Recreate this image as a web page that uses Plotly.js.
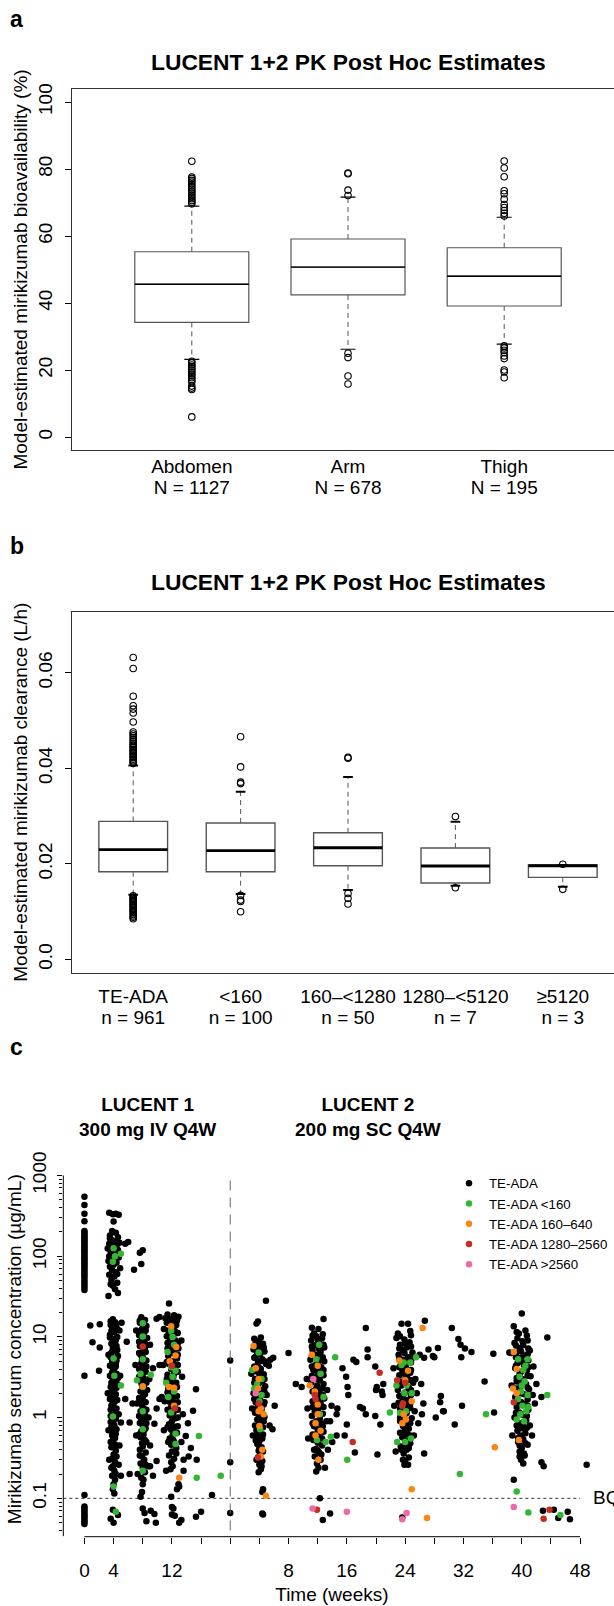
<!DOCTYPE html>
<html>
<head>
<meta charset="utf-8">
<script src="https://cdn.plot.ly/plotly-3.0.1.min.js"></script>
<style>html,body{margin:0;padding:0;overflow:hidden;background:#fff}</style>
</head>
<body>
<div id="chart" style="width:640px;height:1606px"></div>
<script>
// ================= DATA =================
// ---- Panel a: bioavailability by injection site ----
const siteNames = ['Abdomen', 'Arm', 'Thigh'];
const siteN = [1127, 678, 195];
const siteQ1 = [34.2, 42.4, 39.1];
const siteMedian = [45.6, 50.7, 48.0];
const siteQ3 = [55.3, 59.1, 56.5];
const siteWhiskerLow = [23.2, 26.2, 27.7];
const siteWhiskerHigh = [68.9, 71.6, 65.6];
const siteOutliersAbdomen = [69.6, 70.1, 70.6, 71.1, 71.7, 72.2, 72.8, 73.3, 73.9, 74.4, 75.0, 75.5, 76.1, 76.6, 77.2, 77.6, 82.3,
  22.6, 22.1, 21.5, 21.0, 20.4, 19.9, 19.3, 18.8, 18.2, 17.7, 17.1, 16.5, 15.2, 14.6, 14.2, 6.0];
const siteOutliersArm = [72.1, 73.7, 78.6, 78.8, 25.0, 23.7, 18.2, 15.8];
const siteOutliersThigh = [66.0, 66.8, 67.6, 68.5, 69.4, 71.0, 72.6, 73.5, 77.7, 80.3, 82.4,
  27.2, 26.6, 25.9, 25.2, 24.2, 23.4, 20.0, 19.4, 17.7];

// ---- Panel b: clearance by ADA titer ----
const titerNames = ['TE-ADA', '&lt;160', '160–&lt;1280', '1280–&lt;5120', '≥5120'];
const titerN = [961, 100, 50, 7, 3];
const titerQ1 = [0.01835, 0.01835, 0.0196, 0.0160, 0.01717];
const titerMedian = [0.02296, 0.02275, 0.02337, 0.01954, 0.0196];
const titerQ3 = [0.0289, 0.02855, 0.0265, 0.0233, 0.01975];
const titerWhiskerLow = [0.01353, 0.01368, 0.01451, 0.0154, 0.0152];
const titerWhiskerHigh = [0.0406, 0.0351, 0.0382, 0.0288, 0.01975];
const titerOutliersTeAda = [0.0410, 0.0413, 0.0416, 0.0419, 0.0422, 0.0425, 0.0428, 0.0431, 0.0434, 0.0437, 0.0440, 0.0443,
  0.0446, 0.0449, 0.0452, 0.0456, 0.0460, 0.0464, 0.0468, 0.0472, 0.0476, 0.0497, 0.0516, 0.0524, 0.0531, 0.0551, 0.0609, 0.0632,
  0.0133, 0.01305, 0.0128, 0.01255, 0.0123, 0.01205, 0.0118, 0.01155, 0.0113, 0.01105, 0.0108, 0.01055, 0.0103, 0.0100,
  0.0097, 0.0094, 0.0091, 0.0088, 0.0085];
const titerOutliersLt160 = [0.0368, 0.0371, 0.0403, 0.0466, 0.0134, 0.0124, 0.0121, 0.00997];
const titerOutliers160 = [0.0421, 0.0423, 0.0138, 0.01277, 0.01158];
const titerOutliers1280 = [0.0299, 0.0150];
const titerOutliers5120 = [0.0199, 0.01466];

// ---- Panel c: concentration vs time, [week, µg/mL] ----
// LUCENT 1 weeks as is; LUCENT 2 weeks are counted from the start of LUCENT 2
const l1TeAda = [
 [0,546],[0,430],[0,335],[0,270],[0,205],[0,196],[0,186],[0,177],[0,169],[0,161],[0,154],[0,147],[0,140],[0,133],[0,127],[0,121],[0,115],[0,110],[0,104],[0,99],[0,94],[0,90],[0,85],[0,81],[0,77],[0,73],[0,69],[0,65],[0,61],[0,57],[0,54],[0,50],[0,47],[0,44],[0,41],[0,38],[0,3.3],[0,0.11],
 [0,0.079],[0,0.075],[0,0.071],[0,0.067],[0,0.063],[0,0.060],[0,0.057],[0,0.054],[0,0.051],[0,0.048],
 [3.4,345],[4.3,335],[4.7,325],[3.9,330],[4.0,268],[3.8,205],[4.3,195],[3.5,180],[4.6,172],[3.7,160],[4.1,152],[4.8,147],[3.4,142],[4.4,137],[3.9,130],[3.2,124],[4.6,119],[3.6,113],[4.2,107],[3.4,100],[4.7,96],[3.9,91],[3.3,87],[4.4,83],[4.0,78],[3.5,74],[4.9,71],[3.8,67],[4.3,63],[3.4,59],[4.1,56],[3.7,51],[4.5,47],[3.9,43],[4.2,39],[4.6,35],[3.3,32],[3.6,45],[4.4,125],[3.6,95],[4.0,115],[4.5,60],[3.8,135],[4.1,88],[3.5,165],[4.5,150],[3.7,120],
 [5.6,142],[6.0,150],[6.8,68],[7.6,110],[8.0,118],[7.8,80],
 [0.8,13.8],[2.1,14.3],[1.1,8.6],[2.1,7.4],[2.0,3.8],
 [3.9,16.5],[4.2,15.2],[3.6,14.0],[4.4,13.0],[3.8,12.2],[4.1,11.4],[3.5,10.6],[4.5,10.0],[3.9,9.4],[4.2,8.8],[3.7,8.2],[4.4,7.7],[3.9,7.2],[4.1,6.7],[3.6,6.2],[4.6,5.8],[4.0,5.4],[3.8,5.0],[4.3,4.7],[3.5,4.4],[4.1,4.1],[3.9,3.8],[4.4,3.5],[3.7,3.2],[4.2,3.0],[3.9,2.8],[4.5,2.6],[3.6,2.4],[4.1,2.25],[3.8,2.1],[4.3,1.95],[3.9,1.8],[3.5,1.7],[4.2,1.6],[4.0,1.5],[3.7,1.4],[4.4,1.3],[3.9,1.2],[4.1,1.12],[3.6,1.05],[4.3,0.97],[3.9,0.9],[4.0,0.83],[3.7,0.77],[4.4,0.72],[4.0,0.66],[3.8,0.61],[4.2,0.56],[3.9,0.52],[4.1,0.47],[3.7,0.43],[4.3,0.39],[4.0,0.35],[3.8,0.31],[4.2,0.28],[3.9,0.25],[4.1,0.22],[3.8,0.19],[4.2,0.17],[4.0,0.15],[3.9,0.13],[4.1,0.115],
 [4.3,14.5],[3.7,11.8],[4.3,9.1],[3.8,6.5],[4.4,5.1],[3.8,3.6],[4.0,2.5],[4.2,1.85],[3.8,1.45],[4.1,0.8],[3.9,0.58],[4.4,0.45],
 [3.6,15.6],[4.5,12.4],[3.5,9.8],[4.0,8.5],[4.5,6.9],[3.6,5.6],[4.3,4.3],[3.5,3.3],[4.6,3.1],[3.7,2.7],[4.4,2.35],[3.6,1.9],[4.5,1.65],[3.6,1.25],[4.4,1.08],[3.6,0.88],[4.3,0.63],[3.6,0.5],[4.4,0.33],[3.7,0.24],[4.3,0.2],
 [4.8,12],[3.3,6],[4.9,3.3],[3.2,2],[4.7,1.1],[3.3,0.7],[4.8,0.45],[5.0,0.87],[5.0,0.19],[4.7,0.26],[3.4,0.3],
 [5.1,15],[5.8,8.7],[5.6,1.7],[6.2,0.87],[6.2,0.2],
 [3.6,0.056],[4.0,0.05],[4.6,0.062],[3.9,0.072],
 [7.8,17.5],[8.3,16.2],[7.6,15.0],[8.5,13.6],[7.9,12.5],[8.2,11.4],[7.5,10.5],[8.6,9.7],[7.9,9.0],[8.3,8.3],[7.6,7.7],[8.1,7.1],[8.4,6.5],[7.7,6.0],[8.0,5.6],[8.5,5.1],[7.8,4.7],[8.2,4.4],[7.5,4.0],[8.4,3.7],[7.9,3.4],[8.1,3.1],[7.6,2.9],[8.5,2.7],[7.9,2.5],[8.2,2.3],[7.7,2.1],[8.3,1.95],[8.0,1.8],[7.6,1.65],[8.4,1.55],[7.9,1.42],[8.1,1.3],[7.7,1.2],[8.3,1.1],[7.9,1.0],[8.2,0.93],[7.6,0.86],[8.0,0.8],[8.4,0.74],[7.8,0.68],[8.1,0.62],[7.7,0.57],[8.3,0.53],[7.9,0.48],[8.0,0.44],[7.6,0.4],[8.4,0.37],[7.9,0.33],[8.2,0.3],[7.7,0.27],[8.0,0.24],[8.3,0.21],[7.8,0.18],[8.0,0.15],[7.9,0.12],[7.7,0.105],
 [8.1,14.2],[7.7,10.9],[8.3,7.4],[7.9,5.3],[8.1,3.8],[7.8,2.7],[8.1,2.0],[7.8,1.5],[8.1,1.15],[7.8,0.96],[8.2,0.7],
 [7.6,16.0],[8.4,12.0],[7.5,8.7],[8.5,7.8],[7.5,6.3],[8.5,4.3],[7.5,3.2],[8.6,2.2],[7.5,1.75],[8.5,1.25],[7.5,1.05],[8.5,0.85],[7.5,0.62],[8.5,0.5],[7.6,0.34],[8.4,0.26],[8.1,0.17],
 [7.1,12],[9.0,8],[7.0,4.5],[8.9,3],[7.2,1.5],[8.8,1.0],[7.1,0.6],[9.0,0.45],[8.8,0.25],[7.3,0.2],
 [9.9,16.8],[10.3,17.6],[9.4,4.1],[10.3,1.7],[9.9,1.3],[9.6,0.84],[9.9,0.29],[9.0,0.25],[9.4,0.19],[6.6,1.5],
 [8.0,0.075],[8.25,0.066],[9.1,0.07],[8.5,0.052],[9.6,0.064],[9.8,0.05],
 [11.6,26],[11.4,19],[12.3,18.5],[12.9,17.8],[11.9,16.5],[11.3,15],[12.6,14],[12.0,13],[11.5,12],[12.8,11.2],[12.2,10.4],[11.7,9.7],[12.5,9],[11.4,8.4],[12.0,7.8],[12.9,7.2],[11.8,6.7],[12.3,6.2],[11.5,5.8],[12.7,5.4],[12.0,5.0],[11.6,4.6],[12.4,4.3],[11.9,4.0],[12.8,3.7],[11.4,3.4],[12.2,3.2],[11.8,2.9],[12.6,2.7],[12.0,2.5],[11.5,2.3],[12.3,2.15],[11.9,2.0],[12.7,1.85],[12.1,1.7],[11.6,1.58],[12.4,1.46],[11.9,1.35],[12.8,1.25],[12.2,1.15],[11.7,1.06],[12.5,0.98],[12.0,0.9],[11.6,0.83],[12.4,0.77],[11.9,0.71],[12.7,0.65],[12.1,0.6],[11.7,0.55],[12.3,0.5],[11.9,0.46],[12.6,0.42],[12.0,0.38],[11.6,0.34],[12.3,0.31],[11.9,0.28],[12.1,0.25],
 [12.1,15.5],[12.4,11.8],[11.8,8.9],[12.3,6.9],[12.1,4.8],[12.3,3.5],[11.9,2.6],[12.2,1.95],[12.0,1.45],[12.2,1.0],[12.1,0.73],[12.2,0.52],
 [11.4,17.2],[12.7,16.0],[11.3,10.2],[12.8,8.3],[11.4,7.2],[12.8,6.0],[11.3,4.9],[12.8,4.5],[11.3,3.0],[12.7,2.4],[11.4,2.05],[12.8,1.55],[11.4,1.25],[12.8,1.0],[11.4,0.76],[12.8,0.78],[11.5,0.5],[12.6,0.36],[11.8,0.23],
 [10.9,12.5],[13.3,9],[10.8,4.5],[13.4,3.2],[11.0,1.6],[13.5,1.1],[10.9,0.7],[13.3,0.5],[13.6,0.3],[11.2,0.22],[11.1,17],
 [14.9,1.22],[15.3,2.25],[13.9,0.59],[13.6,0.22],[15.4,0.3],[12.9,0.15],[12.7,0.13],[17.5,0.11],[14.2,0.85],[14.6,0.42],[11.9,0.105],[10.6,1.8],[10.3,4.5],[14.3,0.33],[13.0,0.14],
 [12.0,0.078],[12.2,0.075],[12.0,0.063],[12.4,0.061],[13.3,0.054],[13.0,0.05],[15.3,0.059],[16.0,0.068]
];
const l1Lt160 = [
 [4.0,125],[4.2,100],[3.9,85],[5.0,107],[4.0,5.4],[4.1,3.3],[5.0,2.5],[3.9,1.03],[4.0,0.14],[4.3,0.068],
 [8.0,14.8],[8.0,10.1],[8.0,5.3],[7.7,3.5],[9.1,3.4],[7.2,2.9],[8.0,2.4],[8.0,1.2],[8.0,0.72],[8.0,0.22],
 [11.9,12],[12.1,10],[12.3,8],[11.4,6.5],[11.9,4.2],[12.5,3.8],[12.1,3.2],[11.5,1.8],[12.3,2.1],[11.9,1.16],[12.5,0.63],[12.5,0.47],[11.2,2.7],
 [15.7,0.59],[15.4,0.18],[18.7,0.19]
];
const l1T160to640 = [[8.0,2.45],[11.9,13.5],[12.6,7.5],[12.5,5.9],[11.6,2.4],[12.3,2.35],[12.3,1.4],[13.0,0.18],[11.7,5.0]];
const l1T1280to2560 = [[8.0,7.6],[12.0,4.4],[12.4,1.3]];
const l1Gt2560 = [];

const l2TeAda = [
 [0,5.1],[0,0.28],[0,0.066],
 [4.9,28],[3.8,15.5],[3.6,14.6],[4.2,9.8],[3.3,9.5],
 [3.6,8.8],[4.5,8.2],[3.9,7.5],[3.2,7.0],[4.7,6.6],[4.1,6.1],[3.5,5.7],[4.4,5.3],[3.8,4.9],[4.9,4.6],[3.3,4.3],[4.2,4.0],[3.7,3.7],[4.6,3.45],[4.0,3.2],[3.4,3.0],[4.4,2.8],[3.9,2.6],[4.8,2.45],[3.6,2.3],[4.2,2.15],[3.2,2.0],[4.5,1.9],[3.9,1.78],[4.1,1.65],[3.5,1.55],[4.6,1.45],[3.8,1.35],[4.3,1.27],[3.6,1.18],[4.0,1.1],[4.7,1.02],[3.7,0.95],[4.2,0.88],[3.9,0.82],[4.5,0.76],[3.6,0.7],[4.1,0.65],[3.8,0.6],[4.4,0.55],[4.0,0.51],[3.7,0.47],[4.3,0.43],[3.9,0.39],[4.1,0.35],[3.8,0.32],[4.4,0.29],[4.0,0.26],[4.2,0.23],[3.9,0.21],
 [4.0,8.6],[4.3,7.2],[3.7,6.3],[4.1,5.0],[3.9,4.2],[4.1,3.4],[3.7,2.5],[4.3,2.2],[3.8,1.6],[4.2,1.25],[3.9,0.98],[4.1,0.75],[3.8,0.55],[4.0,0.42],
 [3.4,8.0],[4.6,7.4],[3.3,5.5],[4.7,5.0],[3.4,3.9],[4.7,3.0],[3.3,2.7],[4.7,2.1],[3.3,1.7],[4.7,1.55],[3.4,1.15],[4.6,0.9],[3.4,0.8],[4.5,0.62],[3.5,0.52],[4.5,0.38],[3.6,0.3],[4.3,0.25],
 [5.3,4.4],[2.9,3.5],[5.0,1.9],[3.0,1.3],[5.4,0.8],[3.1,0.6],
 [5.9,5.5],[5.5,5.2],[6.1,1.4],[5.8,0.72],[4.5,0.13],[4.4,0.12],[8.0,6.3],[9.0,2.6],[9.8,2.4],
 [4.4,0.065],[4.5,0.063],
 [12.8,16.6],[11.2,13],[12.1,12.5],[11.5,11],
 [11.8,10.2],[12.6,9.6],[11.1,9.0],[12.2,8.4],[11.6,7.9],[12.9,7.4],[11.3,6.9],[12.4,6.5],[11.9,6.0],[12.7,5.6],[11.0,5.2],[12.1,4.9],[11.7,4.5],[12.5,4.2],[11.4,3.9],[12.0,3.6],[12.8,3.35],[11.6,3.1],[12.3,2.9],[11.1,2.7],[11.9,2.5],[12.6,2.3],[11.5,2.15],[12.2,2.0],[11.8,1.85],[12.9,1.72],[11.3,1.6],[12.4,1.5],[11.9,1.4],[12.1,1.3],[11.6,1.2],[12.7,1.12],[11.2,1.05],[12.3,0.97],[11.8,0.9],[12.5,0.84],[11.5,0.78],[12.0,0.72],[12.8,0.67],[11.7,0.62],[12.3,0.57],[11.4,0.53],[12.0,0.49],[12.6,0.45],[11.8,0.41],[12.2,0.37],[11.6,0.33],[12.4,0.3],[11.9,0.27],[12.1,0.24],[11.8,0.215],
 [12.0,9.3],[12.2,7.1],[11.8,5.4],[12.2,4.1],[12.0,3.0],[11.8,2.3],[12.1,1.7],[12.0,1.15],[12.1,0.88],[12.0,0.6],[12.0,0.39],
 [11.3,10.4],[12.7,10.8],[11.2,7.6],[12.8,8.0],[11.2,5.8],[12.9,5.0],[11.2,4.3],[12.8,3.9],[11.2,3.3],[12.8,2.6],[11.3,2.1],[12.7,1.9],[11.3,1.35],[12.8,1.35],[11.3,0.85],[12.7,0.78],[11.3,0.62],[12.6,0.55],[11.5,0.4],[12.5,0.35],
 [10.5,3.0],[13.3,2.2],[10.6,1.3],[13.2,0.9],[10.7,0.55],[13.4,0.4],
 [15.4,4.1],[15.9,3.2],[16.9,5.2],[17.3,4.9],[16.1,2.4],[16.2,1.9],[14.7,1.3],[14.6,0.6],[15.7,0.6],[13.9,1.4],[14.6,1.1],[16.0,0.82],[17.1,0.37],[13.0,0.24],[13.7,0.9],[14.0,0.5],
 [12.3,0.1],[13.7,0.065],[12.7,0.054],
 [18.6,12.9],[18.85,7.0],[18.85,5.6],[19.9,4.3],[20.1,2.4],[20.0,2.2],[21.0,2.6],[20.9,1.9],[18.6,1.1],[17.8,1.35],[18.2,1.3],[19.9,1.05],[20.6,0.82],[20.2,0.35],[20.8,2.1],
 [23.5,14.5],[24.4,14.5],[23.0,11],[24.8,10.5],[22.8,9.7],
 [23.9,9.3],[24.6,8.6],[23.3,8.0],[24.2,7.4],[23.7,6.9],[25.0,6.4],[23.1,6.0],[24.4,5.6],[23.8,5.2],[24.8,4.8],[23.4,4.5],[24.1,4.2],[23.6,3.9],[24.7,3.6],[23.2,3.35],[24.3,3.1],[23.9,2.9],[25.1,2.7],[23.5,2.5],[24.5,2.35],[23.0,2.2],[24.0,2.05],[24.8,1.9],[23.6,1.77],[24.3,1.65],[23.1,1.53],[24.0,1.42],[24.7,1.32],[23.5,1.23],[24.2,1.14],[23.8,1.06],[24.9,0.98],[23.3,0.91],[24.1,0.85],[23.7,0.79],[24.5,0.73],[23.9,0.67],[24.3,0.62],[23.6,0.57],[24.0,0.52],[24.7,0.48],[23.4,0.44],[24.2,0.4],[23.8,0.36],[24.5,0.32],[24.0,0.28],[24.4,0.26],[23.9,0.26],
 [24.0,8.3],[23.9,6.3],[24.1,4.9],[23.9,3.5],[24.1,2.6],[23.8,1.95],[24.1,1.55],[23.9,1.2],[24.1,0.95],[24.0,0.72],[24.0,0.47],
 [23.3,10.2],[24.7,11.8],[23.2,7.2],[24.8,7.6],[23.2,5.4],[24.9,5.4],[23.2,4.2],[24.8,3.9],[23.2,2.8],[24.8,2.9],[23.2,1.85],[24.8,2.2],[23.3,1.3],[24.7,1.5],[23.3,1.0],[24.7,0.85],[23.3,0.65],[24.7,0.6],[23.5,0.4],[24.5,0.42],[23.7,0.3],
 [22.4,4.1],[25.4,3.0],[22.5,1.4],[25.3,1.2],[22.7,0.38],[25.2,0.6],
 [26.7,15.8],[26.0,6.0],[26.6,5.5],[27.8,5.8],[28.5,7.3],[28.0,5.6],[27.2,7.0],[28.8,1.55],[29.2,1.2],[26.5,1.5],[26.3,1.1],[26.6,0.36],[25.6,2.0],[26.2,2.6],[25.8,0.85],
 [23.6,0.058],
 [30.4,12.9],[31.3,9.4],[31.6,8.0],[32.2,7.2],[33.1,6.5],[31.7,5.6],[28.9,1.85],[31.8,1.4],[29.3,1.2],[28.2,1.0],[30.8,0.82],[34.9,2.8],[36.1,6.2],[36.2,1.16],[48.9,0.26],
 [40.0,19.5],[38.9,13.5],[40.5,12],[39.6,11],
 [39.4,9.6],[40.8,9.0],[39.0,8.4],[40.2,7.9],[39.7,7.3],[41.1,6.8],[39.2,6.3],[40.5,5.9],[39.9,5.5],[40.9,5.1],[39.4,4.7],[40.3,4.4],[39.1,4.1],[40.7,3.8],[39.7,3.5],[41.2,3.25],[40.1,3.0],[39.3,2.8],[40.6,2.6],[39.8,2.4],[41.0,2.25],[39.5,2.1],[40.3,1.95],[39.1,1.8],[40.8,1.68],[39.9,1.56],[40.4,1.45],[39.3,1.35],[40.9,1.25],[39.7,1.16],[40.2,1.08],[39.0,1.0],[40.6,0.93],[39.6,0.86],[41.1,0.8],[40.0,0.74],[39.4,0.69],[40.5,0.64],[39.8,0.59],[40.2,0.54],[39.5,0.5],[40.8,0.46],[40.0,0.42],[39.7,0.38],[40.4,0.34],[39.9,0.3],[40.2,0.27],
 [40.1,8.8],[39.9,6.6],[40.1,4.9],[39.9,3.7],[40.1,2.7],[39.9,2.0],[40.1,1.5],[39.9,1.1],[40.1,0.83],[40.0,0.6],
 [39.3,11.5],[40.7,10.4],[39.2,7.8],[40.9,7.2],[39.2,5.6],[40.8,6.1],[39.2,4.4],[40.9,4.2],[39.3,3.1],[40.8,3.3],[39.2,2.3],[40.8,2.35],[39.3,1.6],[40.8,1.4],[39.2,1.15],[40.7,1.05],[39.3,0.8],[40.7,0.75],[39.5,0.56],[40.5,0.48],[39.7,0.45],[40.3,0.36],
 [38.5,6.3],[41.6,4.3],[38.6,2.5],[41.5,1.9],[38.7,0.6],[41.4,0.6],
 [42.7,1.8],[43.5,9.8],[42.0,2.6],[41.8,1.5],[42.7,0.28],[43.0,0.25],[39.7,0.33],[38.9,0.17],[38.3,6.4],
 [42.9,0.07],[44.4,0.072],[45.0,0.057],[46.3,0.068],[46.6,0.055]
];
const l2Lt160 = [
 [3.9,6.4],[3.0,3.9],[3.3,2.3],[4.3,1.9],[4.0,1.6],[4.1,0.72],[4.3,3.0],[3.7,2.6],
 [12.2,8],[11.8,5.3],[12.8,1.8],[12.3,1.1],[11.9,0.53],[13.1,0.5],[13.8,0.58],[12.4,3.5],[14.4,5.6],[16.05,0.3],
 [23.8,4.8],[23.5,4.5],[24.7,4.8],[22.8,2.5],[24.2,2.5],[24.9,2.0],[23.9,2.0],[22.9,0.5],[24.0,0.5],[25.5,5.6],[21.9,1.16],[23.3,1.15],[24.8,0.55],[24.1,1.2],
 [39.5,5.3],[40.2,3.9],[40.8,5.3],[39.7,3.2],[40.4,2.8],[40.0,2.5],[40.8,1.9],[39.5,1.7],[40.1,1.4],[40.6,1.2],[39.8,1.1],[39.3,0.95],[40.9,1.35],[40.3,0.9],[40.5,4.4],[39.9,2.1],
 [39.3,0.122],[40.9,0.067],[43.5,1.9],[35.1,1.1],[31.5,0.2],[45.3,0.062]
];
const l2T160to640 = [
 [3.2,7.7],[3.5,4.1],[3.9,3.0],[3.8,2.3],[4.2,1.3],[3.9,1.2],[4.0,0.79],[4.4,0.4],[4.2,0.33],[4.9,0.108],[4.6,1.1],
 [11.2,6.0],[12.0,4.4],[10.9,2.5],[11.6,2.1],[12.0,1.45],[12.0,1.1],[11.7,0.85],[12.4,0.69],[11.7,0.6],[12.1,0.3],
 [23.2,5.1],[24.4,3.8],[24.0,2.9],[24.9,1.6],[23.8,1.1],[23.6,0.85],[24.1,0.95],[24.9,0.13],[26.4,12.9],[27.0,0.057],
 [38.9,6.5],[38.8,2.3],[39.3,2.0],[39.6,0.53],[36.3,0.43],[39.3,4.0]
];
const l2T1280to2560 = [[3.9,1.5],[3.8,0.32],[11.6,1.9],[11.7,1.7],[11.9,0.072],[22.9,2.9],[24.0,2.7],[23.7,1.5],[23.6,1.4],[20.5,3.6],[16.8,0.5],[38.9,1.55],[43.8,0.072],[43.0,0.056]];
const l2Gt2560 = [[3.5,2.0],[11.4,3.0],[11.3,0.075],[16.0,0.068],[24.2,0.066],[23.6,0.055],[38.9,0.078]];

// time axis tick labels
const l1TickWeeks = [0, 4, 8, 12, 16];
const l1TickLabels = ['0', '4', '', '12', ''];
const l2TickWeeks = [0, 4, 8, 12, 16, 20, 24, 28, 32, 36, 40, 44, 48];
const l2TickLabels = ['', '', '8', '', '16', '', '24', '', '32', '', '40', '', '48'];
const concTickVals = [0.1, 1, 10, 100, 1000];
const concTickText = ['0.1', '1', '10', '100', '1000'];
const bqlLimit = 0.1;

// ================= BUILD =================
const F = 'Liberation Sans, Arial, Helvetica, sans-serif';
const W = 640, H = 1606;
const px = v => v / W;
const py = v => 1 - v / H;
const L2_START = 20;   // position of LUCENT 2 week 0 on the shared time axis

function boxTraces(cfg) {
  const n = cfg.q1.length;
  const xs = cfg.q1.map((_, i) => i + 1);
  const traces = [];
  const wx = [], wy = [];
  for (let i = 0; i < n; i++) {
    wx.push(i + 1, i + 1, null, i + 1, i + 1, null);
    wy.push(cfg.q3[i], cfg.hi[i], null, cfg.q1[i], cfg.lo[i], null);
  }
  traces.push({type: 'scatter', mode: 'lines', x: wx, y: wy, xaxis: cfg.xa, yaxis: cfg.ya,
    line: {color: '#555', width: 1, dash: '5px,4px'}, showlegend: false, hoverinfo: 'skip'});
  traces.push({type: 'box', x: xs, q1: cfg.q1, median: cfg.med, q3: cfg.q3,
    lowerfence: cfg.q1, upperfence: cfg.q3, width: cfg.width, whiskerwidth: 0,
    fillcolor: '#ffffff', line: {color: '#555', width: cfg.boxLine}, boxpoints: false,
    xaxis: cfg.xa, yaxis: cfg.ya, showlegend: false, hoverinfo: 'skip'});
  const mx = [], my = [];
  for (let i = 0; i < n; i++) {
    mx.push(i + 1 - cfg.width / 2, i + 1 + cfg.width / 2, null);
    my.push(cfg.med[i], cfg.med[i], null);
  }
  traces.push({type: 'scatter', mode: 'lines', x: mx, y: my, xaxis: cfg.xa, yaxis: cfg.ya,
    line: {color: '#000', width: cfg.medLine}, showlegend: false, hoverinfo: 'skip'});
  const cx = [], cy = [];
  for (let i = 0; i < n; i++) {
    cx.push(i + 1 - cfg.cap, i + 1 + cfg.cap, null, i + 1 - cfg.cap, i + 1 + cfg.cap, null);
    cy.push(cfg.hi[i], cfg.hi[i], null, cfg.lo[i], cfg.lo[i], null);
  }
  traces.push({type: 'scatter', mode: 'lines', x: cx, y: cy, xaxis: cfg.xa, yaxis: cfg.ya,
    line: {color: '#000', width: cfg.capLine}, showlegend: false, hoverinfo: 'skip'});
  const ox = [], oy = [];
  cfg.out.forEach((arr, i) => arr.forEach(v => { ox.push(i + 1); oy.push(v); }));
  traces.push({type: 'scatter', mode: 'markers', x: ox, y: oy, xaxis: cfg.xa, yaxis: cfg.ya,
    marker: {symbol: 'circle-open', size: 6.5, color: '#000', line: {width: 1.1}},
    showlegend: false, hoverinfo: 'skip'});
  // invisible carrier so the second (count) label row axis is drawn
  traces.push({type: 'scatter', mode: 'markers', x: xs, y: xs.map(() => null), xaxis: cfg.xaCount, yaxis: cfg.ya,
    marker: {opacity: 0}, showlegend: false, hoverinfo: 'skip'});
  return traces;
}

const traces = [];
traces.push(...boxTraces({xa: 'x', xaCount: 'x4', ya: 'y', q1: siteQ1, med: siteMedian, q3: siteQ3,
  lo: siteWhiskerLow, hi: siteWhiskerHigh, width: 0.73, cap: 0.048, boxLine: 1.2, medLine: 1.4, capLine: 1.2,
  out: [siteOutliersAbdomen, siteOutliersArm, siteOutliersThigh]}));
traces.push(...boxTraces({xa: 'x2', xaCount: 'x5', ya: 'y2', q1: titerQ1, med: titerMedian, q3: titerQ3,
  lo: titerWhiskerLow, hi: titerWhiskerHigh, width: 0.64, cap: 0.045, boxLine: 1.4, medLine: 2.8, capLine: 2,
  out: [titerOutliersTeAda, titerOutliersLt160, titerOutliers160, titerOutliers1280, titerOutliers5120]}));

const groups = [
  {name: 'TE-ADA', color: '#000000', l1: l1TeAda, l2: l2TeAda},
  {name: 'TE-ADA &lt;160', color: '#35B535', l1: l1Lt160, l2: l2Lt160},
  {name: 'TE-ADA 160–640', color: '#FB8614', l1: l1T160to640, l2: l2T160to640},
  {name: 'TE-ADA 1280–2560', color: '#C52E25', l1: l1T1280to2560, l2: l2T1280to2560},
  {name: 'TE-ADA &gt;2560', color: '#EC6AAA', l1: l1Gt2560, l2: l2Gt2560}
];
groups.forEach(g => {
  const x = [], y = [];
  g.l1.forEach(p => { x.push(p[0]); y.push(p[1]); });
  g.l2.forEach(p => { x.push(p[0] + L2_START); y.push(p[1]); });
  traces.push({type: 'scatter', mode: 'markers', name: g.name, x, y, xaxis: 'x3', yaxis: 'y3',
    marker: {color: g.color, size: 6.5, line: {width: 0}}, hoverinfo: 'skip'});
});

const timeTickVals = l1TickWeeks.concat(l2TickWeeks.map(w => w + L2_START));
const timeTickText = l1TickLabels.concat(l2TickLabels);
const minorConc = [];
[0.01, 0.1, 1, 10, 100].forEach(d => { for (let k = 2; k <= 9; k++) minorConc.push(+(d * k).toPrecision(3)); });

const axCommon = {showgrid: false, zeroline: false, color: '#000', tickcolor: '#000', tickfont: {family: F, size: 19, color: '#000'}};
const titleFont = {family: F, size: 19, color: '#000'};

const layout = {
  width: W, height: H, margin: {l: 0, r: 0, t: 0, b: 0},
  paper_bgcolor: '#ffffff', plot_bgcolor: 'rgba(0,0,0,0)',
  font: {family: F, size: 19, color: '#000'},
  showlegend: true,
  legend: {x: px(449), xanchor: 'left', y: py(1168), yanchor: 'top', font: {family: F, size: 13.3, color: '#000'},
    itemwidth: 30, bgcolor: 'rgba(0,0,0,0)', borderwidth: 0, tracegroupgap: 0},
  // panel a
  xaxis: Object.assign({}, axCommon, {domain: [px(72), px(624)], range: [0.233, 3.767], anchor: 'y',
    tickmode: 'array', tickvals: [1, 2, 3], ticktext: siteNames,
    ticks: '', showline: true, mirror: true, linecolor: '#333', linewidth: 1, ticklabelstandoff: -1}),
  xaxis4: Object.assign({}, axCommon, {overlaying: 'x', anchor: 'y', side: 'bottom', range: [0.233, 3.767],
    tickmode: 'array', tickvals: [1, 2, 3], ticktext: siteN.map(n => 'N = ' + n),
    ticks: '', showline: false, showticklabels: true, ticklabelstandoff: 24}),
  yaxis: Object.assign({}, axCommon, {domain: [py(450.4), py(88.6)], range: [-4, 104], anchor: 'x',
    tickmode: 'array', tickvals: [0, 20, 40, 60, 80, 100], ticks: 'outside', ticklen: 6, tickangle: -90,
    showline: true, mirror: true, linecolor: '#333', linewidth: 1, ticklabelstandoff: 5,
    title: {text: 'Model-estimated mirikizumab bioavailability (%)', font: titleFont, standoff: 2}}),
  // panel b
  xaxis2: Object.assign({}, axCommon, {domain: [px(72), px(624)], range: [0.43, 5.57], anchor: 'y2',
    tickmode: 'array', tickvals: [1, 2, 3, 4, 5], ticktext: titerNames,
    ticks: '', showline: true, mirror: true, linecolor: '#333', linewidth: 1, ticklabelstandoff: 6}),
  xaxis5: Object.assign({}, axCommon, {overlaying: 'x2', anchor: 'y2', side: 'bottom', range: [0.43, 5.57],
    tickmode: 'array', tickvals: [1, 2, 3, 4, 5], ticktext: titerN.map(n => 'n = ' + n),
    ticks: '', showline: false, showticklabels: true, ticklabelstandoff: 31}),
  yaxis2: Object.assign({}, axCommon, {domain: [py(972.7), py(611.7)], range: [-0.0028, 0.0728], anchor: 'x2',
    tickmode: 'array', tickvals: [0, 0.02, 0.04, 0.06], ticktext: ['0.0', '0.02', '0.04', '0.06'],
    ticks: 'outside', ticklen: 6, tickangle: -90, showline: true, mirror: true, linecolor: '#333', linewidth: 1, ticklabelstandoff: 5,
    title: {text: 'Model-estimated mirikizumab clearance (L/h)', font: titleFont, standoff: 2}}),
  // panel c
  xaxis3: Object.assign({}, axCommon, {domain: [px(63.3), px(600.5)], range: [-2.9, 70.8], anchor: 'y3',
    tickmode: 'array', tickvals: timeTickVals, ticktext: timeTickText, ticks: 'outside', ticklen: 6,
    showline: false, ticklabelstandoff: 10,
    title: {text: 'Time (weeks)', font: titleFont, standoff: 8}}),
  yaxis3: Object.assign({}, axCommon, {type: 'log', domain: [py(1536.7), py(1161.7)], range: [-1.475, 3.17], anchor: 'x3',
    tickmode: 'array', tickvals: concTickVals, ticktext: concTickText, ticks: 'outside', ticklen: 5, tickangle: -90,
    showline: false, ticklabelstandoff: 4,
    minor: {tickmode: 'array', tickvals: minorConc, ticks: 'outside', ticklen: 3, tickcolor: '#000', showgrid: false},
    title: {text: 'Mirikizumab serum concentration (µg/mL)', font: titleFont, standoff: 2}}),
  shapes: [
    {type: 'line', xref: 'x3 domain', x0: 0, x1: 0, yref: 'y3', y0: 0.034, y1: 1000, line: {color: '#000', width: 1}},
    {type: 'line', xref: 'x3', x0: 0, x1: 68, yref: 'y3 domain', y0: 0, y1: 0, line: {color: '#000', width: 1}},
    {type: 'line', xref: 'x3', x0: L2_START, x1: L2_START, yref: 'y3', y0: 0.04, y1: 1000, line: {color: '#666', width: 1, dash: '10px,7px'}},
    {type: 'line', xref: 'x3', x0: -2.9, x1: 68, yref: 'y3', y0: bqlLimit, y1: bqlLimit, line: {color: '#333', width: 1, dash: '3px,3px'}, layer: 'below'}
  ],
  annotations: [
    {text: '<b>a</b>', xref: 'paper', yref: 'paper', x: px(16), y: py(19), showarrow: false, font: {size: 23}, xanchor: 'center', yanchor: 'middle'},
    {text: '<b>LUCENT 1+2 PK Post Hoc Estimates</b>', xref: 'paper', yref: 'paper', x: px(348), y: py(62), showarrow: false, font: {size: 22.8}, xanchor: 'center', yanchor: 'middle'},
    {text: '<b>b</b>', xref: 'paper', yref: 'paper', x: px(17), y: py(546), showarrow: false, font: {size: 23}, xanchor: 'center', yanchor: 'middle'},
    {text: '<b>LUCENT 1+2 PK Post Hoc Estimates</b>', xref: 'paper', yref: 'paper', x: px(348), y: py(582), showarrow: false, font: {size: 22.8}, xanchor: 'center', yanchor: 'middle'},
    {text: '<b>c</b>', xref: 'paper', yref: 'paper', x: px(16.4), y: py(1047), showarrow: false, font: {size: 23}, xanchor: 'center', yanchor: 'middle'},
    {text: '<b>LUCENT 1<br>300 mg IV Q4W</b>', xref: 'paper', yref: 'paper', x: px(147), y: py(1117), showarrow: false, font: {size: 19}, xanchor: 'center', yanchor: 'middle'},
    {text: '<b>LUCENT 2<br>200 mg SC Q4W</b>', xref: 'paper', yref: 'paper', x: px(367.5), y: py(1117), showarrow: false, font: {size: 19}, xanchor: 'center', yanchor: 'middle'},
    {text: 'BQL', xref: 'paper', yref: 'paper', x: px(591), y: py(1497.7), showarrow: false, font: {size: 19}, xanchor: 'left', yanchor: 'middle'}
  ]
};

Plotly.newPlot('chart', traces, layout, {displayModeBar: false, staticPlot: true, responsive: false});
</script>
</body>
</html>
